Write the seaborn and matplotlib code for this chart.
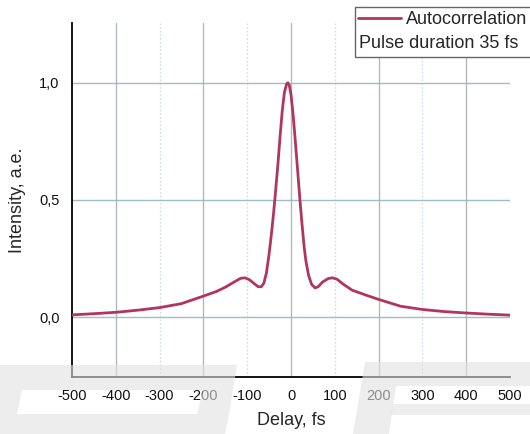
import numpy as np
import pandas as pd
import matplotlib
matplotlib.use("Agg")
import matplotlib.pyplot as plt
from matplotlib.patches import Polygon, Rectangle
from matplotlib.lines import Line2D
import seaborn as sns

# ---- data ----
delay = [-500, -450, -400, -350, -300, -250, -200, -170, -150, -130, -115, -105,
         -95, -85, -75, -68, -62, -56, -50, -45, -40, -36, -30, -25, -20, -15,
         -10, -7, -4, 0, 5, 9, 15, 20, 25, 30, 34, 40, 47, 55, 62, 72, 85, 95,
         105, 120, 140, 170, 200, 250, 300, 350, 400, 450, 500]
intensity = [0.010, 0.015, 0.021, 0.030, 0.041, 0.058, 0.090, 0.110, 0.128, 0.150,
             0.166, 0.168, 0.160, 0.145, 0.130, 0.130, 0.145, 0.190, 0.270, 0.350,
             0.440, 0.520, 0.650, 0.770, 0.880, 0.960, 0.995, 1.000, 0.990, 0.950,
             0.860, 0.770, 0.630, 0.510, 0.400, 0.300, 0.240, 0.180, 0.140, 0.125,
             0.130, 0.150, 0.165, 0.168, 0.162, 0.140, 0.115, 0.095, 0.076, 0.047,
             0.033, 0.024, 0.018, 0.013, 0.009]
x_ticks = [-500, -400, -300, -200, -100, 0, 100, 200, 300, 400, 500]
y_ticks = [0.0, 0.5, 1.0]
y_tick_labels = ["0,0", "0,5", "1,0"]
y_minor = [0.25, 0.75]
legend_labels = ["Autocorrelation", "Pulse duration 35 fs"]

df = pd.DataFrame({"Delay": delay, "Intensity": intensity})

sns.set_style("white")
plt.rcParams["font.family"] = ["Liberation Sans", "DejaVu Sans"]

W, H = 530, 434
fig = plt.figure(figsize=(W / 100, H / 100), dpi=100)
ax = fig.add_axes([72 / W, 1 - 377 / H, (510 - 72) / W, (377 - 23) / H])
ax.set_facecolor("white")

# grid
for xv in x_ticks[1:-1]:
    if xv % 200 == 0:
        ax.axvline(xv, color="#b0b8bf", lw=1.0, zorder=0)
    else:
        ax.axvline(xv, color="#d3dde5", lw=0.9, ls=(0, (1.5, 1.5)), zorder=0)
for yv in y_ticks:
    ax.axhline(yv, color="#9fbccb", lw=1.0, zorder=0)

sns.lineplot(data=df, x="Delay", y="Intensity", ax=ax, color="#b0365e",
             lw=2.0, zorder=3, legend=False)

ax.set_xlim(-500, 500)
ax.set_ylim(-0.255, 1.255)
ax.set_xticks(x_ticks)
ax.set_xticklabels([str(v) for v in x_ticks])
ax.set_yticks(y_ticks)
ax.set_yticklabels(y_tick_labels)
ax.set_yticks(y_minor, minor=True)
ax.tick_params(axis="both", which="both", direction="out", length=5, width=1.1,
               color="black", labelsize=10.5, labelcolor="#111111")
ax.tick_params(axis="x", pad=4)
ax.tick_params(axis="y", pad=4)
for s in ["top", "right"]:
    ax.spines[s].set_visible(False)
for s in ["left", "bottom"]:
    ax.spines[s].set_color("black")
    ax.spines[s].set_linewidth(1.3)
ax.set_xlabel("Delay, fs", fontsize=13, labelpad=6)
ax.set_ylabel("Intensity, a.e.", fontsize=13, labelpad=9)

# legend box drawn in figure pixels
def fx(px):
    return px / W

def fy(py):
    return 1 - py / H

fig.patches.append(Rectangle((fx(355), fy(57)), fx(540) - fx(355), fy(7) - fy(57),
                             transform=fig.transFigure, facecolor="white",
                             edgecolor="#6e6262", lw=1.0, zorder=5))
fig.lines.append(Line2D([fx(358), fx(401)], [fy(18), fy(18)], transform=fig.transFigure,
                        color="#b0365e", lw=2.0, zorder=6))
fig.text(fx(406), fy(19), legend_labels[0], fontsize=13, va="center", ha="left", zorder=6)
fig.text(fx(359), fy(43), legend_labels[1], fontsize=13, va="center", ha="left", zorder=6)

# watermark overlay (semi-transparent gray shapes)
wm = dict(transform=fig.transFigure, facecolor="#e2e2e2", edgecolor="none", alpha=0.6, zorder=10)
wm_shapes = [
    # left shape: frame around a clear bar
    [(0, 365), (237, 365), (233, 390), (0, 390)],
    [(0, 390), (22, 390), (17, 414), (0, 414)],
    [(203, 390), (233, 390), (229, 414), (197, 414)],
    [(0, 414), (229, 414), (225, 434), (0, 434)],
    # right shape
    [(365, 362), (530, 362), (530, 386), (361, 386)],
    [(361, 386), (396, 386), (389, 434), (353, 434)],
    [(393, 404), (530, 404), (530, 415), (391, 415)],
]
for shp in wm_shapes:
    fig.patches.append(Polygon([(fx(a), fy(b)) for a, b in shp], **wm))

fig.savefig("out.png", dpi=100)
